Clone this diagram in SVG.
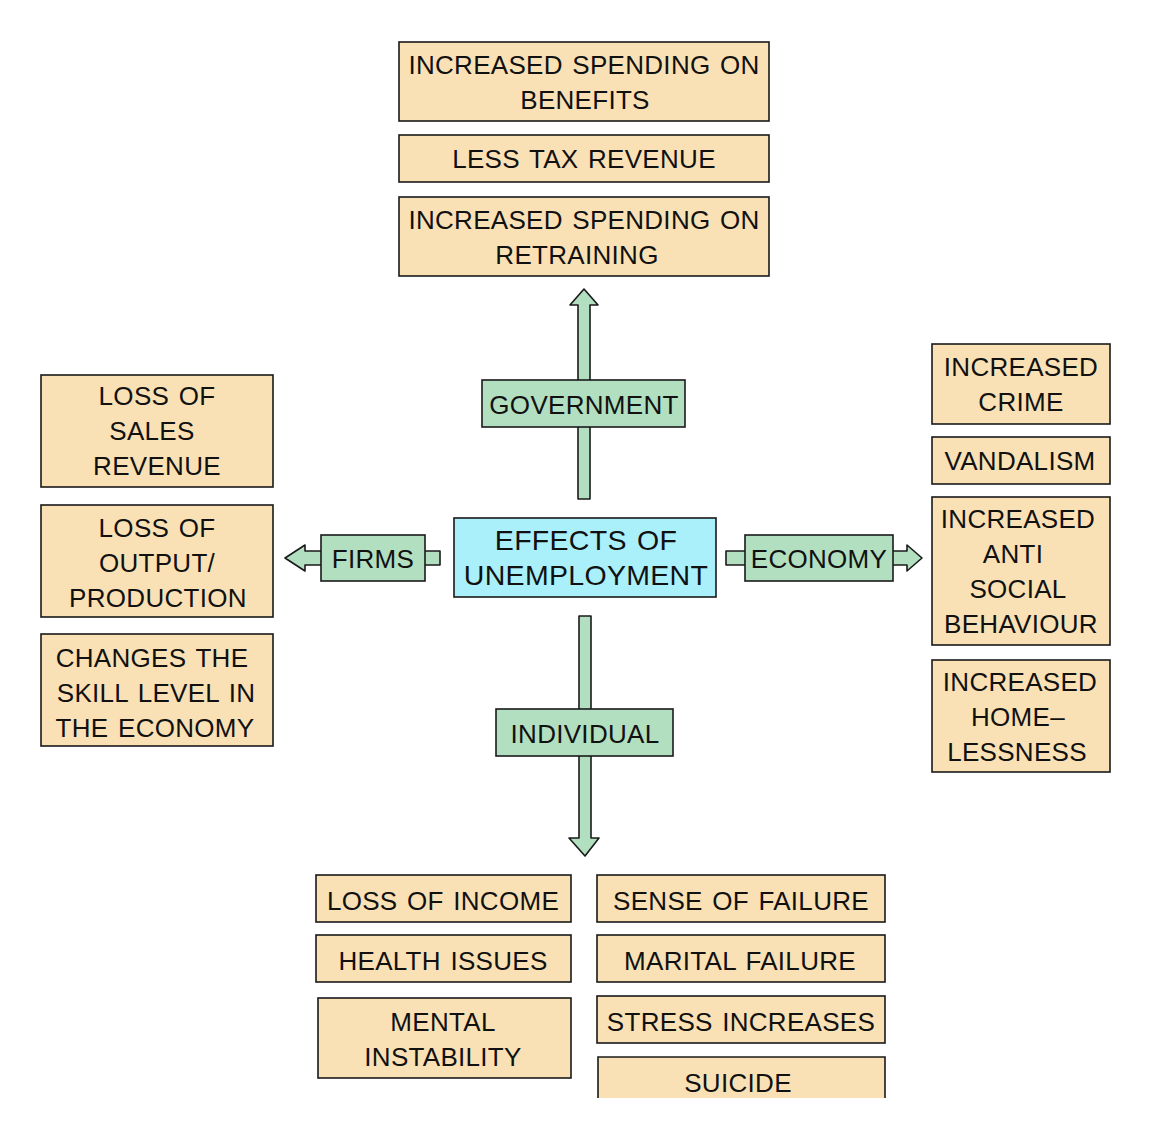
<svg xmlns="http://www.w3.org/2000/svg" width="1152" height="1139" viewBox="0 0 1152 1139">
<style>
.o{fill:#fae1b5;stroke:#1a1a1a;stroke-width:1.6}
.g{fill:#b2dfc0;stroke:#1a1a1a;stroke-width:1.6}
.c{fill:#aaf0fb;stroke:#1a1a1a;stroke-width:1.6}
.a{fill:#b2dfc0;stroke:#1a1a1a;stroke-width:1.6;stroke-linejoin:round}
text{font-family:"Liberation Sans",Arial,sans-serif;font-size:26px;fill:#111;text-anchor:middle;letter-spacing:0.3px;word-spacing:2px}
.big{font-size:28.5px}
</style>
<rect width="1152" height="1139" fill="#fff"/>
<g id="connectors">
<path class="a" d="M578,499 L578,305 L570,305 L584,289 L598,305 L590,305 L590,499 Z"/>
<path class="a" d="M440,551 L305,551 L305,545 L285,558 L305,571 L305,565 L440,565 Z"/>
<path class="a" d="M726,551 L907,551 L907,545 L922,558 L907,571 L907,565 L726,565 Z"/>
<path class="a" d="M579,616 L591,616 L591,838 L599,838 L585,856 L569,838 L579,838 Z"/>
</g>
<g id="gov-benefits"><rect class="o" x="399" y="42" width="370" height="79"/><text x="584" y="73.5">INCREASED SPENDING ON</text><text x="585" y="108.5">BENEFITS</text></g>
<g id="gov-tax"><rect class="o" x="399" y="135" width="370" height="47"/><text x="584" y="168">LESS TAX REVENUE</text></g>
<g id="gov-retraining"><rect class="o" x="399" y="197" width="370" height="79"/><text x="584" y="228.5">INCREASED SPENDING ON</text><text x="577" y="263.5">RETRAINING</text></g>
<g id="government"><rect class="g" x="482" y="380" width="203" height="47"/><text x="584" y="413.5">GOVERNMENT</text></g>
<g id="firms-sales"><rect class="o" x="41" y="375" width="232" height="112"/><text x="157" y="404.5">LOSS OF</text><text x="152" y="439.5">SALES</text><text x="157" y="474.5">REVENUE</text></g>
<g id="firms-output"><rect class="o" x="41" y="505" width="232" height="112"/><text x="157" y="536.5">LOSS OF</text><text x="157" y="571.5">OUTPUT/</text><text x="158" y="606.5">PRODUCTION</text></g>
<g id="firms-skill"><rect class="o" x="41" y="634" width="232" height="112"/><text x="152" y="666.5">CHANGES THE</text><text x="156" y="701.5">SKILL LEVEL IN</text><text x="155" y="736.5">THE ECONOMY</text></g>
<g id="firms"><rect class="g" x="321" y="535" width="104" height="46"/><text x="373" y="568">FIRMS</text></g>
<g id="center"><rect class="c" x="454" y="518" width="262" height="79"/><text class="big" x="586" y="550">EFFECTS OF</text><text class="big" x="586" y="585">UNEMPLOYMENT</text></g>
<g id="economy"><rect class="g" x="745" y="535" width="148" height="46"/><text x="819" y="568">ECONOMY</text></g>
<g id="econ-crime"><rect class="o" x="932" y="344" width="178" height="80"/><text x="1021" y="376">INCREASED</text><text x="1021" y="411">CRIME</text></g>
<g id="econ-vandalism"><rect class="o" x="932" y="437" width="178" height="47"/><text x="1020" y="470">VANDALISM</text></g>
<g id="econ-antisocial"><rect class="o" x="932" y="497" width="178" height="148"/><text x="1018" y="527.5">INCREASED</text><text x="1013" y="562.5">ANTI</text><text x="1018" y="597.5">SOCIAL</text><text x="1021" y="632.5">BEHAVIOUR</text></g>
<g id="econ-homeless"><rect class="o" x="932" y="660" width="178" height="112"/><text x="1020" y="690.5">INCREASED</text><text x="1018" y="725.5">HOME–</text><text x="1017" y="760.5">LESSNESS</text></g>
<g id="individual"><rect class="g" x="496" y="709" width="177" height="47"/><text x="585" y="742.5">INDIVIDUAL</text></g>
<g id="ind-income"><rect class="o" x="316" y="875" width="255" height="47"/><text x="443" y="909.5">LOSS OF INCOME</text></g>
<g id="ind-health"><rect class="o" x="316" y="935" width="255" height="47"/><text x="443" y="969.5">HEALTH ISSUES</text></g>
<g id="ind-mental"><rect class="o" x="318" y="998" width="253" height="80"/><text x="443" y="1030.5">MENTAL</text><text x="443" y="1065.5">INSTABILITY</text></g>
<g id="ind-failure"><rect class="o" x="597" y="875" width="288" height="47"/><text x="741" y="909.5">SENSE OF FAILURE</text></g>
<g id="ind-marital"><rect class="o" x="597" y="935" width="288" height="47"/><text x="740" y="969.5">MARITAL FAILURE</text></g>
<g id="ind-stress"><rect class="o" x="597" y="996" width="288" height="47"/><text x="741" y="1030.5">STRESS INCREASES</text></g>
<g id="ind-suicide"><path d="M598,1098 L598,1057 L885,1057 L885,1098 Z" fill="#fae1b5"/><path d="M598,1098 L598,1057 L885,1057 L885,1098" fill="none" stroke="#1a1a1a" stroke-width="1.6"/><text x="738" y="1091.5">SUICIDE</text></g>
</svg>
